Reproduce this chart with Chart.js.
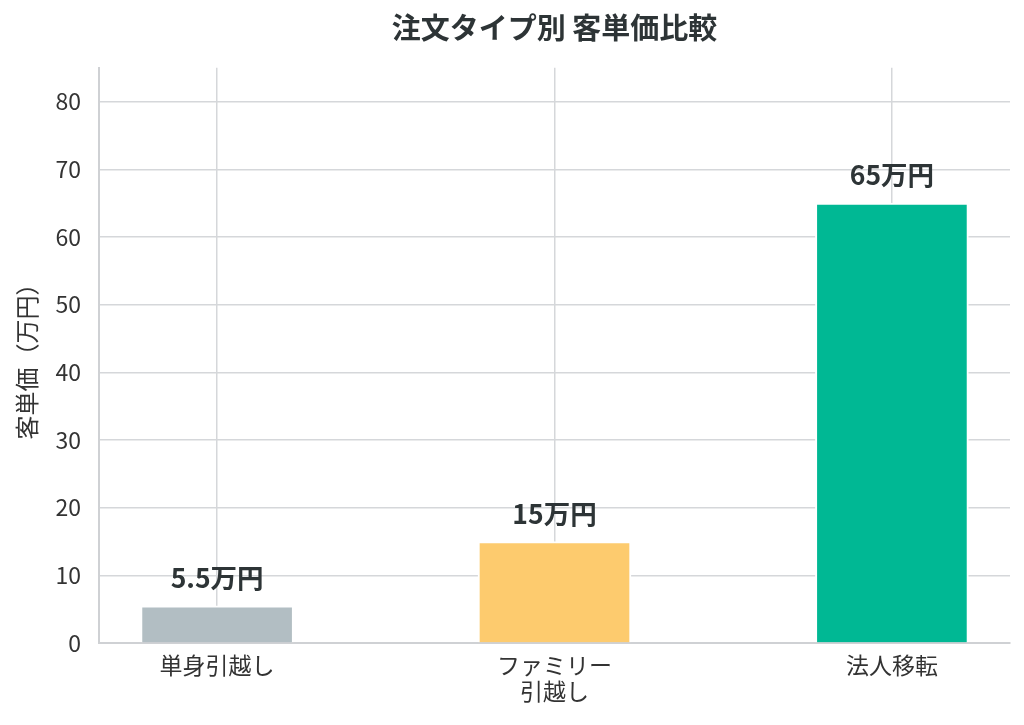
<!DOCTYPE html>
<html lang="ja">
  <head>
    <meta charset="UTF-8" />
    <title>注文タイプ別 客単価比較</title>
    <script src="https://cdn.jsdelivr.net/npm/chart.js"></script>
    <style>
      html, body { margin: 0; padding: 0; background: #fff; }
      #wrap { width: 1024px; height: 725px; }
    </style>
  </head>
  <body>
    <div id="wrap"><canvas id="priceChart" width="1024" height="725"></canvas></div>
    <script>
      // data
      const categories = ["単身引越し", ["ファミリー", "引越し"], "法人移転"];
      const unitPrices = [5.5, 15, 65];
      const barColors = ["#b2bec3", "#fdcb6e", "#00b894"];
      const valueLabels = ["5.5万円", "15万円", "65万円"];
      const yTicks = [0, 10, 20, 30, 40, 50, 60, 70, 80];

      const FONT = "'Noto Sans CJK JP', 'Noto Sans', sans-serif";
      const GRID = "#d5d7da";

      const valueLabelPlugin = {
        id: "valueLabels",
        afterDatasetsDraw(chart) {
          const ctx = chart.ctx;
          const meta = chart.getDatasetMeta(0);
          ctx.save();
          ctx.font = "bold 26.5px " + FONT;
          ctx.fillStyle = "#2d3436";
          ctx.textAlign = "center";
          ctx.textBaseline = "middle";
          meta.data.forEach((bar, i) => {
            ctx.fillText(valueLabels[i], bar.x, bar.y - 28);
          });
          ctx.restore();
        },
      };

      new Chart(document.getElementById("priceChart").getContext("2d"), {
        type: "bar",
        data: {
          datasets: [
            {
              data: unitPrices.map((v, i) => ({ x: i, y: v })),
              backgroundColor: barColors,
              borderColor: "#ffffff",
              borderWidth: 2,
              borderSkipped: "start",
              barThickness: 153,
            },
          ],
        },
        options: {
          responsive: false,
          animation: false,
          layout: { padding: { left: 0, right: 14, top: 0, bottom: 0 } },
          plugins: {
            legend: { display: false },
            tooltip: { enabled: false },
            title: {
              display: true,
              fullSize: false,
              text: "注文タイプ別 客単価比較",
              color: "#2d3436",
              font: { family: FONT, size: 29, weight: "bold", lineHeight: 1.2 },
              padding: { top: 11, bottom: 22 },
            },
          },
          scales: {
            x: {
              type: "linear",
              offset: false,
              min: -0.35,
              max: 2.35,
              afterBuildTicks(scale) {
                scale.ticks = categories.map((c, i) => ({ value: i }));
              },
              afterFit(scale) {
                scale.height = 82;
              },
              ticks: {
                callback: (v) => categories[v],
                color: "#333",
                font: { family: FONT, size: 23, lineHeight: 1.1 },
                padding: 10,
                maxRotation: 0,
              },
              grid: { color: GRID, lineWidth: 1.5, drawTicks: false, offset: false },
              border: { color: "#cfd1d4", width: 2 },
            },
            y: {
              min: 0,
              max: 85,
              afterBuildTicks(scale) {
                scale.ticks = yTicks.map((v) => ({ value: v }));
              },
              afterFit(scale) {
                scale.width = 99;
              },
              ticks: {
                color: "#333",
                font: { family: FONT, size: 23 },
                padding: 18,
              },
              grid: { color: GRID, lineWidth: 1.5, drawTicks: false },
              border: { color: "#cfd1d4", width: 2 },
              title: {
                display: true,
                text: "客単価（万円）",
                color: "#333",
                font: { family: FONT, size: 24 },
                padding: { top: 12, bottom: 4 },
              },
            },
          },
        },
        plugins: [valueLabelPlugin],
      });
    </script>
  </body>
</html>
